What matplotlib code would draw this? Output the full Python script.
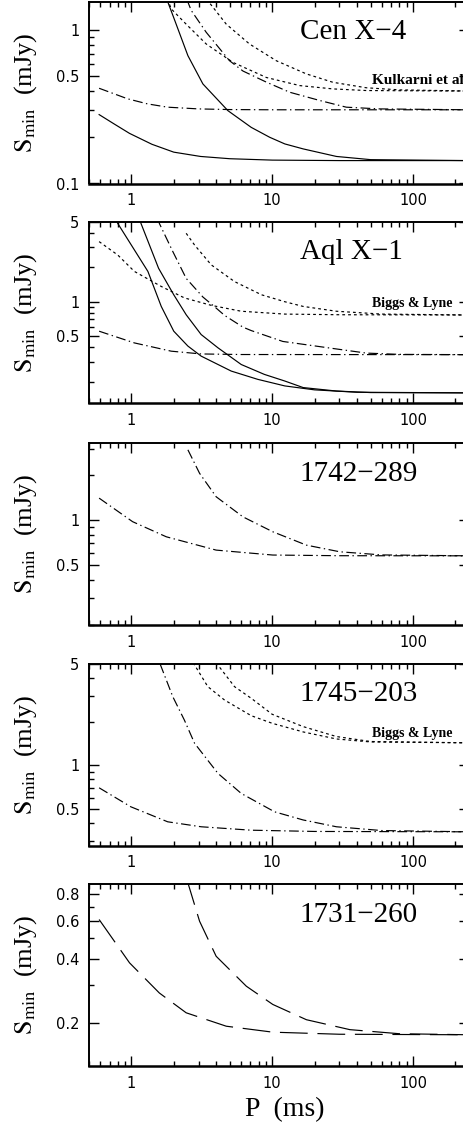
#!/usr/bin/env python3
"""
Minimum detectable flux density S_min vs spin period P for five X-ray
transients (Cen X-4, Aql X-1, 1742-289, 1745-203, 1731-260).
Values read off the published figure.
"""
import numpy as np
import matplotlib
matplotlib.use("Agg")
import matplotlib.pyplot as plt
from matplotlib.ticker import FixedLocator, FixedFormatter, LogLocator, NullFormatter

# ---- Cen X-4 -------------------------------------------------------------
cen_solid_a_p = [0.59, 0.75, 0.97, 1.4, 2.0, 3.1, 5.0, 10, 30, 250]
cen_solid_a_s = [0.281, 0.245, 0.212, 0.18, 0.160, 0.150, 0.145, 0.142, 0.141, 0.141]
cen_solid_b_p = [1.7, 1.8, 2.0, 2.52, 3.22, 4.85, 7.1, 9.6, 12.3, 16.6, 28.6, 50, 250]
cen_solid_b_s = [1.75, 1.55, 1.2, 0.68, 0.445, 0.298, 0.232, 0.20, 0.181, 0.168, 0.150, 0.143, 0.141]
cen_dd_a_p = [0.59, 0.94, 1.3, 1.81, 3.0, 5.0, 10, 250]
cen_dd_a_s = [0.417, 0.356, 0.33, 0.314, 0.306, 0.303, 0.302, 0.302]
cen_dd_b_p = [2.4, 2.66, 3.4, 4.98, 6.2, 9.1, 13.3, 21.8, 33.6, 58, 250]
cen_dd_b_s = [1.7, 1.34, 0.965, 0.63, 0.54, 0.457, 0.393, 0.347, 0.314, 0.306, 0.302]
cen_dot_a_p = [1.8, 1.92, 2.45, 3.4, 5.26, 9.1, 15.7, 27, 46.7, 250]
cen_dot_a_s = [1.6, 1.37, 1.09, 0.81, 0.615, 0.49, 0.434, 0.413, 0.403, 0.40]
cen_dot_b_p = [3.3, 3.49, 4.72, 6.9, 10.7, 17.5, 27, 46.7, 80.5, 250]
cen_dot_b_s = [1.7, 1.55, 1.09, 0.81, 0.63, 0.517, 0.456, 0.42, 0.407, 0.40]

# ---- Aql X-1 -------------------------------------------------------------
aql_solid_a_p = [0.77, 0.80, 1.31, 1.63, 2.0, 2.52, 3.13, 5.12, 7.9, 12.3, 20, 40, 250]
aql_solid_a_s = [5.4, 4.83, 1.84, 0.91, 0.553, 0.41, 0.335, 0.248, 0.21, 0.184, 0.17, 0.162, 0.16]
aql_solid_b_p = [1.14, 1.17, 1.56, 2.0, 2.45, 3.13, 4.12, 6.03, 8.8, 12.3, 16.6, 28.6, 50, 250]
aql_solid_b_s = [5.4, 4.83, 1.96, 1.15, 0.77, 0.517, 0.396, 0.283, 0.232, 0.203, 0.178, 0.166, 0.161, 0.16]
aql_dd_a_p = [0.59, 1.05, 1.92, 3.13, 6.0, 250]
aql_dd_a_s = [0.553, 0.437, 0.37, 0.35, 0.346, 0.345]
aql_dd_b_p = [1.55, 1.58, 1.97, 2.45, 3.22, 4.0, 4.59, 6.2, 7.1, 11.9, 27.3, 46.7, 80, 250]
aql_dd_b_s = [5.4, 4.83, 2.74, 1.6, 1.1, 0.88, 0.76, 0.6, 0.56, 0.45, 0.39, 0.356, 0.347, 0.345]
aql_dot_a_p = [0.59, 0.80, 1.05, 1.63, 2.38, 3.69, 6.03, 12.3, 30, 250]
aql_dot_a_s = [3.35, 2.56, 1.84, 1.36, 1.08, 0.93, 0.826, 0.78, 0.77, 0.766]
aql_dot_b_p = [2.45, 2.81, 3.69, 5.4, 8.4, 12.3, 16.6, 28.6, 60, 250]
aql_dot_b_s = [3.96, 3.13, 2.1, 1.5, 1.15, 1.0, 0.91, 0.826, 0.78, 0.766]

# ---- 1742-289 ------------------------------------------------------------
gc_dd_a_p = [0.59, 1.02, 1.77, 4.0, 10.1, 30, 250]
gc_dd_a_s = [1.40, 0.975, 0.773, 0.63, 0.584, 0.578, 0.577]
gc_dd_b_p = [2.52, 3.05, 4.0, 6.2, 10.1, 17.5, 30.2, 60, 250]
gc_dd_b_s = [2.94, 2.05, 1.43, 1.05, 0.835, 0.68, 0.614, 0.585, 0.577]

# ---- 1745-203 ------------------------------------------------------------
t5_dd_a_p = [0.59, 0.99, 1.81, 3.13, 7.1, 20, 250]
t5_dd_a_s = [0.70, 0.518, 0.408, 0.377, 0.357, 0.35, 0.348]
t5_dd_b_p = [1.6, 1.97, 2.38, 2.81, 4.12, 6.03, 10.4, 16.6, 28.6, 60, 250]
t5_dd_b_s = [5.0, 2.97, 2.05, 1.42, 0.88, 0.64, 0.478, 0.42, 0.377, 0.355, 0.348]
t5_dot_a_p = [2.75, 3.49, 4.59, 7.1, 10, 16.6, 28.6, 50, 250]
t5_dot_a_s = [5.1, 3.49, 2.82, 2.2, 1.95, 1.7, 1.52, 1.45, 1.43]
t5_dot_b_p = [4.0, 5.4, 7.1, 10, 16.6, 28.6, 50, 250]
t5_dot_b_s = [5.1, 3.49, 2.9, 2.25, 1.85, 1.58, 1.46, 1.43]

# ---- 1731-260 ------------------------------------------------------------
kp_dash_a_p = [0.59, 0.97, 1.58, 2.45, 4.72, 10.1, 30, 250]
kp_dash_a_s = [0.609, 0.382, 0.276, 0.223, 0.193, 0.181, 0.177, 0.176]
kp_dash_b_p = [2.45, 2.52, 3.05, 4.0, 6.55, 10.1, 17.5, 35.6, 80, 250]
kp_dash_b_s = [0.95, 0.904, 0.598, 0.41, 0.297, 0.244, 0.207, 0.186, 0.178, 0.176]

# line styles (dash lengths in points)
SOLID = "-"
DASHDOT = (0, (7, 2.5, 1, 2.5))
DOTTED = (0, (2.0, 2.2))
LONGDASH = (0, (20, 7))

panels = [
    dict(name="Cen X\u22124", ylim=(0.1, 1.52),
         yticks=[0.1, 0.5, 1], ylabels=["0.1", "0.5", "1"],
         note="Kulkarni et al", note_y=0.569, note_size=11,
         curves=[(cen_solid_a_p, cen_solid_a_s, SOLID),
                 (cen_solid_b_p, cen_solid_b_s, SOLID),
                 (cen_dd_a_p, cen_dd_a_s, DASHDOT),
                 (cen_dd_b_p, cen_dd_b_s, DASHDOT),
                 (cen_dot_a_p, cen_dot_a_s, DOTTED),
                 (cen_dot_b_p, cen_dot_b_s, DOTTED)]),
    dict(name="Aql X\u22121", ylim=(0.13, 5),
         yticks=[0.5, 1, 5], ylabels=["0.5", "1", "5"],
         note="Biggs & Lyne", note_y=0.549, note_size=10,
         curves=[(aql_solid_a_p, aql_solid_a_s, SOLID),
                 (aql_solid_b_p, aql_solid_b_s, SOLID),
                 (aql_dd_a_p, aql_dd_a_s, DASHDOT),
                 (aql_dd_b_p, aql_dd_b_s, DASHDOT),
                 (aql_dot_a_p, aql_dot_a_s, DOTTED),
                 (aql_dot_b_p, aql_dot_b_s, DOTTED)]),
    dict(name="1742\u2212289", ylim=(0.2, 3.25),
         yticks=[0.5, 1], ylabels=["0.5", "1"],
         note=None, note_y=None, note_size=None,
         curves=[(gc_dd_a_p, gc_dd_a_s, DASHDOT),
                 (gc_dd_b_p, gc_dd_b_s, DASHDOT)]),
    dict(name="1745\u2212203", ylim=(0.28, 5),
         yticks=[0.5, 1, 5], ylabels=["0.5", "1", "5"],
         note="Biggs & Lyne", note_y=0.617, note_size=10,
         curves=[(t5_dd_a_p, t5_dd_a_s, DASHDOT),
                 (t5_dd_b_p, t5_dd_b_s, DASHDOT),
                 (t5_dot_a_p, t5_dot_a_s, DOTTED),
                 (t5_dot_b_p, t5_dot_b_s, DOTTED)]),
    dict(name="1731\u2212260", ylim=(0.126, 0.89),
         yticks=[0.2, 0.4, 0.6, 0.8], ylabels=["0.2", "0.4", "0.6", "0.8"],
         note=None, note_y=None, note_size=None,
         curves=[(kp_dash_a_p, kp_dash_a_s, LONGDASH),
                 (kp_dash_b_p, kp_dash_b_s, LONGDASH)]),
]

W, H = 463, 1131
SERIF = ["Liberation Serif", "DejaVu Serif"]

plt.rcParams["lines.scale_dashes"] = False
plt.rcParams["mathtext.fontset"] = "stix"
plt.rcParams["font.family"] = ["DejaVu Sans"]

fig = plt.figure(figsize=(W / 100, H / 100), dpi=100)

# panel tops in pixels; axes run off the right edge like the original crop
tops_px = [2, 221.7, 443.3, 664, 884.3]
left_px, right_px, height_px = 89, 469, 181.5

for pan, top in zip(panels, tops_px):
    ax = fig.add_axes([left_px / W, 1 - (top + height_px) / H,
                       (right_px - left_px) / W, height_px / H])
    for p, s, ls in pan["curves"]:
        ax.plot(p, s, color="black", lw=0.85, linestyle=ls)

    ax.set_xscale("log")
    ax.set_yscale("log")
    ax.set_xlim(0.5, 250)
    ax.set_ylim(*pan["ylim"])

    ax.xaxis.set_major_locator(FixedLocator([1, 10, 100]))
    ax.xaxis.set_major_formatter(FixedFormatter(["1", "10", "100"]))
    ax.xaxis.set_minor_locator(LogLocator(base=10, subs=np.arange(2, 10)))
    ax.xaxis.set_minor_formatter(NullFormatter())
    ax.yaxis.set_major_locator(FixedLocator(pan["yticks"]))
    ax.yaxis.set_major_formatter(FixedFormatter(pan["ylabels"]))
    ax.yaxis.set_minor_locator(LogLocator(base=10, subs=np.arange(2, 10)))
    ax.yaxis.set_minor_formatter(NullFormatter())

    ax.tick_params(which="both", direction="in", top=True, right=True,
                   width=1.0, labelsize=10.5, pad=7)
    ax.tick_params(which="major", length=7.5)
    ax.tick_params(which="minor", length=3.8)
    for sp in ax.spines.values():
        sp.set_linewidth(1.4)
    ax.spines["bottom"].set_linewidth(1.8)

    # y label placed by hand so it sits inside the figure like the original
    ax.text(-0.166, 0.5, r"$\mathrm{S_{min}}$  (mJy)", transform=ax.transAxes,
            fontsize=19, family=SERIF, rotation=90, ha="center", va="center")

    ax.text(0.555, 0.833, pan["name"], transform=ax.transAxes,
            fontsize=21, family=SERIF, ha="left", va="center")
    if pan["note"]:
        ax.text(0.745, pan["note_y"], pan["note"], transform=ax.transAxes,
                fontsize=pan["note_size"], family=SERIF, fontweight="bold",
                ha="left", va="center")

fig.text(285 / W, 1 - 1110 / H, "P  (ms)", fontsize=20, family=SERIF,
         ha="center", va="center")

fig.savefig("out.png", dpi=100)
